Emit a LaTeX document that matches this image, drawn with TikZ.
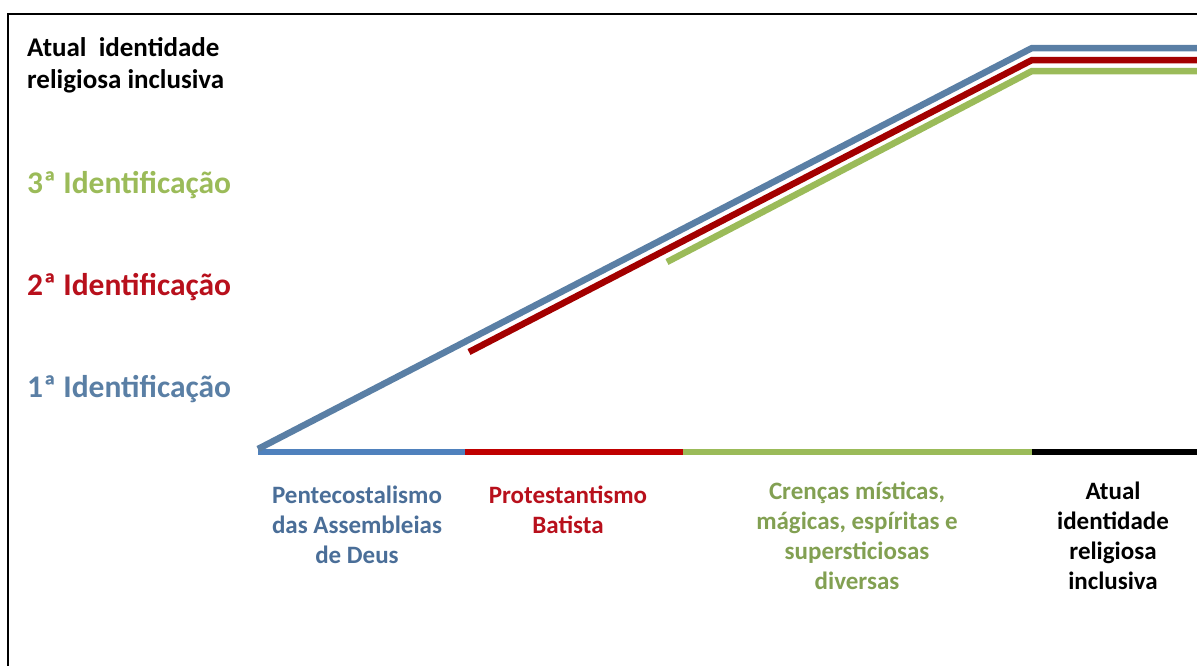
\documentclass[tikz,border=0pt]{standalone}
\usepackage{fontspec}
\setmainfont{Carlito}
\definecolor{cblue}{HTML}{4F81BD}
\definecolor{cbluedark}{HTML}{5A7FA5}
\definecolor{cbluetxt}{HTML}{4A6E98}
\definecolor{cred}{HTML}{C00000}
\definecolor{credtxt}{HTML}{B8101C}
\definecolor{cgreen}{HTML}{9BBB59}
\definecolor{cgreentxt}{HTML}{82A052}
\tikzset{
  frameline/.style={line width=2.6pt, black},
  baseseg/.style={line width=6pt},
  stair/.style={line width=6.5pt, line join=bevel},
  lefttxt/.style={anchor=west, inner sep=0pt, font=\bfseries\fontsize{31.5}{36}\selectfont},
  toptxt/.style={anchor=north west, inner sep=0pt, align=left, font=\bfseries\fontsize{27}{32}\selectfont},
  bottxt/.style={anchor=north, inner sep=0pt, align=center, font=\bfseries\fontsize{25}{30}\selectfont}
}
\begin{document}
\begin{tikzpicture}[x=1pt,y=-1pt]
\useasboundingbox (0,0) rectangle (1197,665);
% frame
\coordinate (fbl) at (8,670);
\coordinate (ftl) at (8,14);
\coordinate (ftr) at (1200,14);
\draw[frameline] (fbl) -- (ftl) -- (ftr);
% baseline
\coordinate (b0) at (258,452);
\coordinate (b1) at (465,452);
\coordinate (b2) at (683,452);
\coordinate (b3) at (1032,452);
\coordinate (b4) at (1200,452);
\draw[baseseg, cblue] (b0) -- (b1);
\draw[baseseg, cred] (b1) -- (b2);
\draw[baseseg, cgreen] (b2) -- (b3);
\draw[baseseg, black] (b3) -- (b4);
% stairs
\coordinate (s1a) at (258,449);
\coordinate (s1b) at (1032,48);
\coordinate (s1c) at (1200,48);
\coordinate (s2a) at (469,352);
\coordinate (s2b) at (1032,60);
\coordinate (s2c) at (1200,60);
\coordinate (s3a) at (667,262);
\coordinate (s3b) at (1032,71);
\coordinate (s3c) at (1200,71);
\draw[stair, cgreen] (s3a) -- (s3b) -- (s3c);
\draw[stair, cred!85!black] (s2a) -- (s2b) -- (s2c);
\draw[stair, cbluedark] (s1a) -- (s1b) -- (s1c);
% left labels
\node[toptxt] (atual) at (27,37) {Atual\ \ identidade\\religiosa inclusiva};
\node[lefttxt, text=cgreen] (id3) at (27,185) {3ª Identificação};
\node[lefttxt, text=credtxt] (id2) at (27,287) {2ª Identificação};
\node[lefttxt, text=cbluedark] (id1) at (27,389) {1ª Identificação};
% bottom labels
\node[bottxt, text=cbluetxt] (pent) at (357,485.5) {Pentecostalismo\\das Assembleias\\de Deus};
\node[bottxt, text=credtxt] (prot) at (568,485.5) {Protestantismo\\Batista};
\node[bottxt, text=cgreentxt] (cren) at (857,481.5) {Crenças místicas,\\mágicas, espíritas e\\supersticiosas\\diversas};
\node[bottxt, text=black] (atual2) at (1113,481.5) {Atual\\identidade\\religiosa\\inclusiva};
\end{tikzpicture}
\end{document}
